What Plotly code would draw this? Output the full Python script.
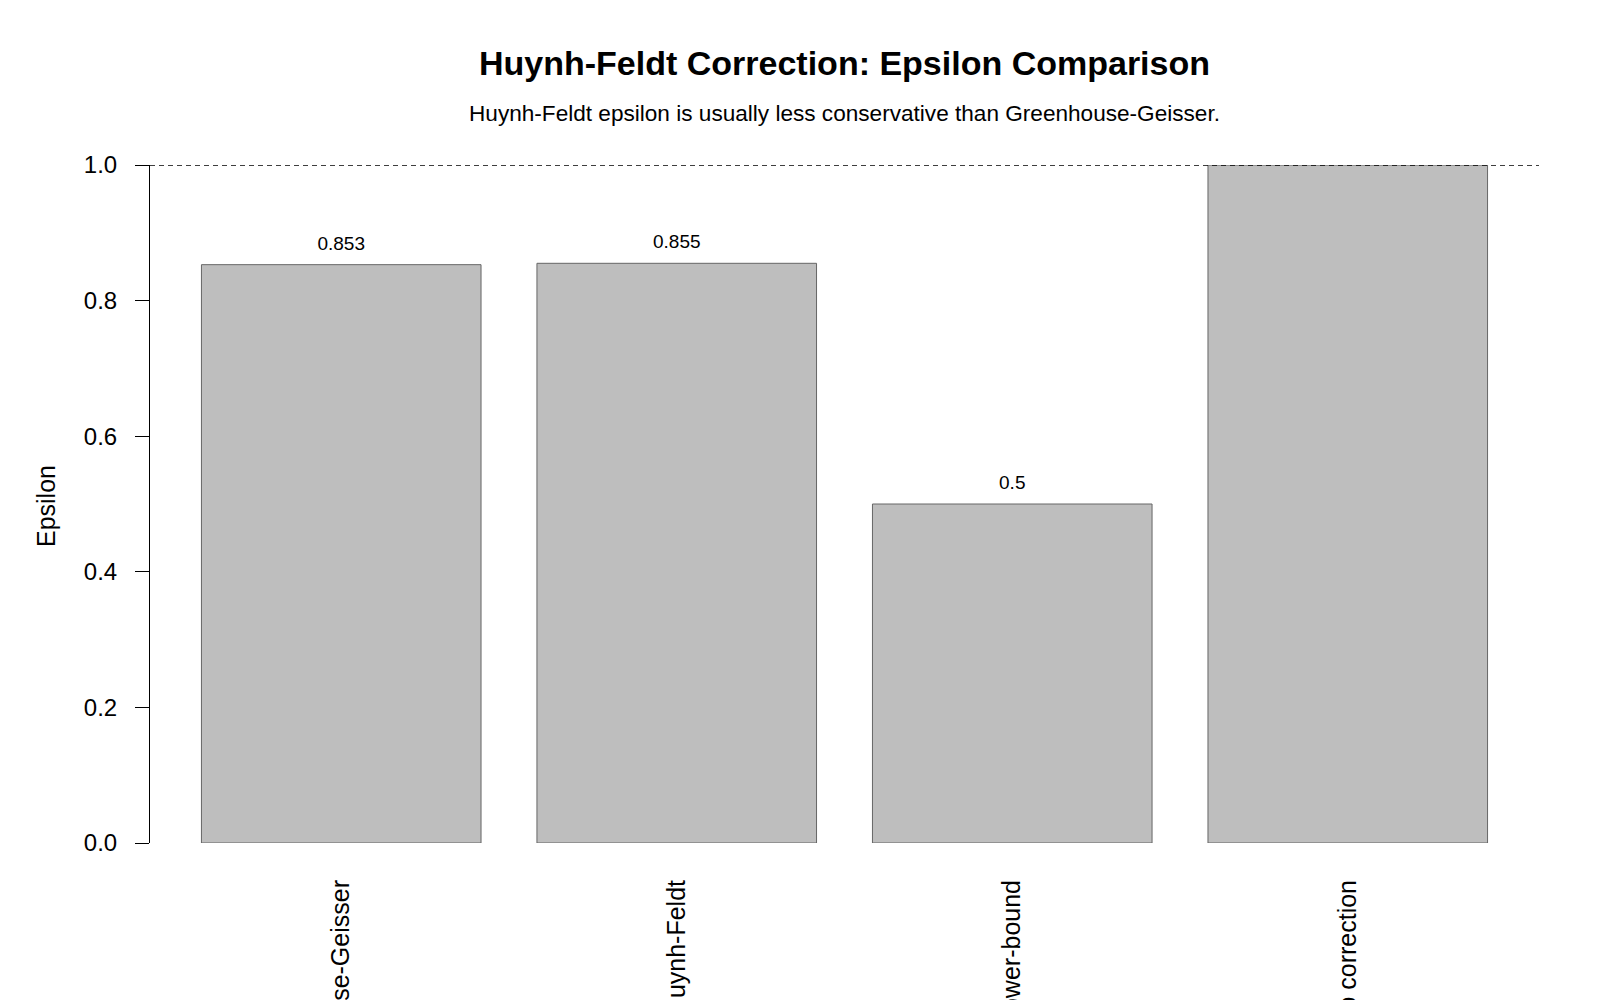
import plotly.graph_objects as go

categories = ["Greenhouse-Geisser", "Huynh-Feldt", "Lower-bound", "No correction"]
epsilon = [0.853, 0.855, 0.5, 1.0]
value_labels = ["0.853", "0.855", "0.5", "1"]
y_ticks = [0.0, 0.2, 0.4, 0.6, 0.8, 1.0]
y_tick_labels = ["0.0", "0.2", "0.4", "0.6", "0.8", "1.0"]
reference_line = 1.0

# R barplot geometry (width 1, space 0.2)
bar_x = [0.7 + 1.2 * i for i in range(len(categories))]
LABEL_OFFSET = 0.029
FONT = "Liberation Sans, Arial, sans-serif"

fig = go.Figure()
fig.add_trace(go.Bar(
    x=bar_x, y=epsilon, width=1.0,
    marker=dict(color="#BEBEBE", line=dict(color="#666666", width=1)),
    hoverinfo="skip", showlegend=False,
))
fig.add_trace(go.Scatter(
    x=bar_x, y=[v + LABEL_OFFSET for v in epsilon], mode="text",
    text=value_labels, textfont=dict(family=FONT, size=19, color="black"),
    cliponaxis=True, showlegend=False, hoverinfo="skip",
))
fig.add_shape(type="line", xref="paper", x0=0, x1=1, yref="y",
              y0=reference_line, y1=reference_line,
              line=dict(color="black", width=1.3, dash="5px,4px"))

fig.update_layout(
    width=1600, height=1000,
    margin=dict(l=150, r=61, t=165, b=157),
    paper_bgcolor="white", plot_bgcolor="white",
    font=dict(family=FONT, color="black"),
    title=dict(text="<b>Huynh-Feldt Correction: Epsilon Comparison</b>",
               x=844.5 / 1600, xanchor="center",
               y=1 - 63 / 1000, yanchor="middle",
               font=dict(size=34, family=FONT, color="black")),
    annotations=[
        dict(text="Huynh-Feldt epsilon is usually less conservative than Greenhouse-Geisser.",
             xref="paper", yref="paper", x=0.5, xanchor="center",
             y=1 + (165 - 113) / 678, yanchor="middle", showarrow=False,
             font=dict(size=22.6, family=FONT, color="black")),
        dict(text="Epsilon", textangle=-90,
             xref="paper", yref="paper", x=(46 - 150) / 1389, xanchor="center",
             y=0.497, yanchor="middle", showarrow=False,
             font=dict(size=25, family=FONT, color="black")),
    ],
    xaxis=dict(range=[0.016, 4.984], tickvals=bar_x, ticktext=categories,
               tickangle=-90, ticks="", showline=False, showgrid=False,
               zeroline=False, automargin=False, ticklabelstandoff=31,
               tickfont=dict(size=25, family=FONT, color="black")),
    yaxis=dict(range=[0, 1], tickvals=y_ticks, ticktext=y_tick_labels,
               ticks="outside", ticklen=14, tickcolor="black", tickwidth=1,
               showline=True, linecolor="black", linewidth=1,
               showgrid=False, zeroline=False, automargin=False,
               ticklabelstandoff=13,
               tickfont=dict(size=24, family=FONT, color="black")),
)
fig.write_html("out.html")
